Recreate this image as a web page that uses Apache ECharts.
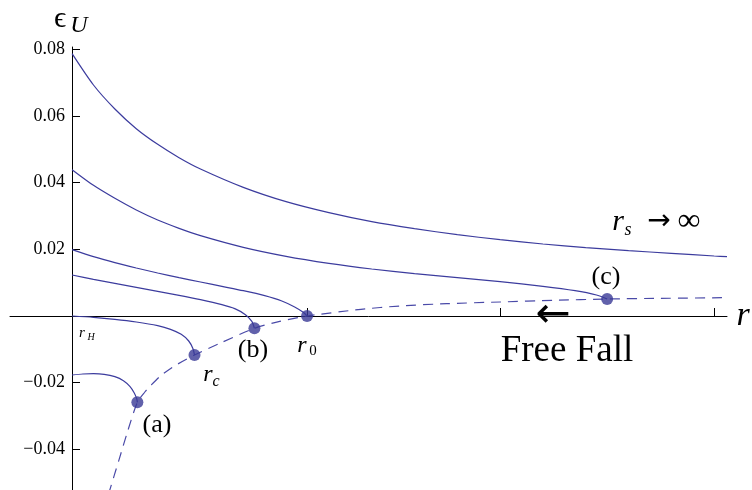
<!DOCTYPE html>
<html>
<head>
<meta charset="utf-8">
<script src="https://cdn.jsdelivr.net/npm/echarts@6/dist/echarts.min.js"></script>
<style>
  html, body { margin: 0; padding: 0; background: #fff; }
  #chart { width: 752px; height: 490px; }
</style>
</head>
<body>
<div id="chart"></div>
<script>
  // r_s -> infinity curve
  var rInf = [0, 1, 2, 3, 4, 5, 6, 8, 10, 12, 14, 16, 18, 20, 22, 24, 26, 28, 30, 30.6];
  var eInf = [0.0787, 0.0693, 0.0621, 0.0562, 0.0515, 0.0475, 0.0441, 0.0386, 0.0343, 0.0310, 0.0283, 0.0262, 0.0244, 0.0229, 0.0216, 0.0205, 0.0196, 0.0188, 0.0180, 0.0178];
  // curve ending at (c)
  var rC = [0, 1, 2, 3, 4, 5, 6, 8, 10, 12, 14, 16, 18, 20, 22, 23.5, 24.5, 25];
  var eC = [0.0439, 0.0392, 0.0353, 0.0318, 0.0288, 0.0263, 0.0241, 0.0206, 0.0179, 0.0158, 0.0141, 0.0127, 0.0115, 0.0103, 0.0089, 0.0076, 0.0063, 0.0051];
  // curve ending at r0
  var rR0 = [0, 1, 2, 3, 4, 5, 6, 7, 8, 9, 9.8, 10.4, 10.8, 10.98];
  var eR0 = [0.0199, 0.0178, 0.0160, 0.0144, 0.0129, 0.0115, 0.0102, 0.0089, 0.0076, 0.0061, 0.0045, 0.0027, 0.0011, 0];
  // curve ending at (b)
  var rB = [0, 1, 2, 3, 4, 5, 6, 7, 7.6, 8.1, 8.4, 8.52];
  var eB = [0.0123, 0.0110, 0.0098, 0.0086, 0.0074, 0.0062, 0.0049, 0.0034, 0.0022, 0.0004, -0.0016, -0.0037];
  // curve ending at rc
  var rRc = [0, 1, 2, 3, 4, 4.6, 5.1, 5.45, 5.65, 5.72];
  var eRc = [0, -0.0004, -0.0010, -0.0018, -0.0029, -0.0040, -0.0055, -0.0075, -0.0098, -0.0117];
  // curve ending at (a)
  var rA = [0, 0.5, 1, 1.5, 2, 2.4, 2.7, 2.9, 3.02, 3.05];
  var eA = [-0.0177, -0.0174, -0.0173, -0.0175, -0.0182, -0.0194, -0.0211, -0.0230, -0.0248, -0.0259];
  // free fall (dashed)
  var rFree = [1.7, 2.2, 2.6, 3.05, 3.4, 3.64, 4.11, 4.73, 5.72, 6.9, 8.52, 9.7, 10.98, 13.5, 15.3, 17.5, 20, 22.5, 25, 27.5, 30.6];
  var eFree = [-0.0535, -0.0430, -0.0345, -0.0259, -0.0228, -0.0211, -0.0181, -0.0152, -0.0117, -0.0082, -0.0037, -0.0016, 0, 0.0020, 0.0030, 0.0037, 0.0042, 0.0047, 0.0051, 0.0053, 0.0055];
  // end points
  var dotR = [3.05, 5.72, 8.52, 10.98, 25];
  var dotE = [-0.0259, -0.0117, -0.0037, 0, 0.0051];

  var xTicks = [11, 20, 30];
  var yTicks = [-0.04, -0.02, 0.02, 0.04, 0.06, 0.08];

  var LINE = '#3c3c9e';
  var SERIF = '"Liberation Serif", "DejaVu Serif", serif';
  var SANS = '"DejaVu Sans", sans-serif';

  function pairs(xs, ys) {
    return xs.map(function (x, i) { return [x, ys[i]]; });
  }

  function curve(xs, ys) {
    return {
      type: 'line',
      data: pairs(xs, ys),
      showSymbol: false,
      smooth: 0.25,
      lineStyle: { color: LINE, width: 1.2 },
      silent: true
    };
  }

  function txt(x, y, s, size, italic, family) {
    return {
      type: 'text',
      x: x,
      y: y,
      z: 100,
      style: {
        text: s,
        font: (italic ? 'italic ' : '') + size + 'px ' + (family || SERIF),
        fill: '#000',
        align: 'center',
        verticalAlign: 'middle'
      }
    };
  }

  var chart = echarts.init(document.getElementById('chart'));
  chart.setOption({
    animation: false,
    grid: { left: 10, right: 25, top: 47, bottom: 0, outerBoundsMode: 'none', containLabel: false },
    xAxis: {
      type: 'value',
      min: -2.9,
      max: 30.6,
      axisLine: { onZero: true, lineStyle: { color: '#000', width: 1 } },
      axisTick: { inside: true, length: 8, customValues: xTicks, lineStyle: { color: '#000' } },
      axisLabel: { show: false },
      splitLine: { show: false }
    },
    yAxis: {
      type: 'value',
      min: -0.0522,
      max: 0.0807,
      // y axis sits at r = 0, 62px right of the grid edge
      offset: -62,
      axisLine: { onZero: false, lineStyle: { color: '#000', width: 1 } },
      axisTick: { inside: true, length: 8, customValues: yTicks, lineStyle: { color: '#000' } },
      axisLabel: {
        customValues: yTicks,
        margin: 7,
        color: '#000',
        fontFamily: SERIF,
        fontSize: 18,
        formatter: function (v) {
          return (v < 0 ? '\u2212' : '') + Math.abs(v).toFixed(2);
        }
      },
      splitLine: { show: false }
    },
    series: [
      curve(rInf, eInf),
      curve(rC, eC),
      curve(rR0, eR0),
      curve(rB, eB),
      curve(rRc, eRc),
      curve(rA, eA),
      {
        type: 'line',
        data: pairs(rFree, eFree),
        showSymbol: false,
        smooth: 0.25,
        lineStyle: { color: '#4a4aa8', width: 1.2, type: [10, 7] },
        silent: true
      },
      {
        type: 'scatter',
        data: pairs(dotR, dotE),
        symbolSize: 12,
        itemStyle: { color: '#3a3a96' },
        z: 5,
        silent: true
      }
    ],
    graphic: [
      txt(60, 19, '\u03F5', 30, false),
      txt(79, 26, 'U', 24, true),
      txt(743, 316, 'r', 34, true),
      txt(82, 333, 'r', 15, true),
      txt(91, 337, 'H', 10, true),
      txt(302, 346, 'r', 24, true),
      txt(313, 351, '0', 15, false),
      txt(208, 375, 'r', 24, true),
      txt(216, 382, 'c', 16, true),
      txt(157, 425, '(a)', 26, false),
      txt(253, 350, '(b)', 26, false),
      txt(606, 277, '(c)', 26, false),
      txt(618, 222, 'r', 30, true),
      txt(628, 230, 's', 18, true),
      txt(659, 222, '\u2192', 28, false, SANS),
      txt(689, 222, '\u221E', 32, false),
      txt(553, 316, '\u2190', 42, false, SANS),
      txt(567, 351, 'Free Fall', 37, false)
    ]
  });
</script>
</body>
</html>
